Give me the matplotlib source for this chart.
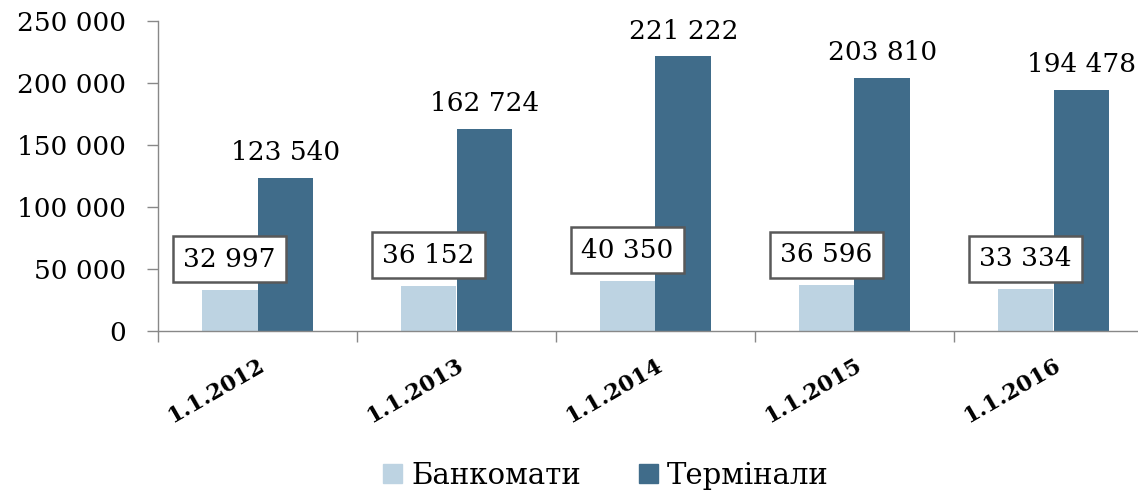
import matplotlib
matplotlib.use("Agg")
import matplotlib.pyplot as plt
import numpy as np
from matplotlib.patches import Patch

categories = ["1.1.2012", "1.1.2013", "1.1.2014", "1.1.2015", "1.1.2016"]
atms = [32997, 36152, 40350, 36596, 33334]
terminals = [123540, 162724, 221222, 203810, 194478]
series_names = ["Банкомати", "Термінали"]
yticks = [0, 50000, 100000, 150000, 200000, 250000]

light = "#BDD3E2"
dark = "#406C8A"

plt.rcParams['font.family'] = ['DejaVu Serif']

def fmt(v):
    return f"{v:,}".replace(",", " ")

fig = plt.figure(figsize=(11.38, 4.91), dpi=100)
ax = fig.add_axes([158/1138, 1 - 330.7/491, 995/1138, 310/491])

x = np.arange(len(categories))
w = 0.281
ax.bar(x - w/2, atms, width=w, color=light)
ax.bar(x + w/2, terminals, width=w, color=dark)

ax.set_xlim(-0.5, len(categories) - 0.5)
ax.set_ylim(0, 250000)
ax.set_yticks(yticks)
ax.set_yticklabels([fmt(v) for v in yticks], fontsize=19)
ax.tick_params(axis='y', length=8, width=1, color='#888888', pad=15, direction='out')

ax.set_xticks(x)
ax.set_xticklabels(categories, fontsize=16, fontweight='bold', rotation=30,
                   ha='right', va='top', rotation_mode='anchor')
ax.tick_params(axis='x', which='major', length=0, pad=17)
for lbl in ax.get_xticklabels():
    lbl.set_x(lbl.get_position()[0] - 0.03)
ax.set_xticks(np.arange(len(categories) + 1) - 0.5, minor=True)
ax.tick_params(axis='x', which='minor', length=8, width=1, color='#888888', direction='out')

for s in ['top', 'right']:
    ax.spines[s].set_visible(False)
for s in ['left', 'bottom']:
    ax.spines[s].set_color('#888888')
    ax.spines[s].set_linewidth(1)

for xi, v in zip(x, terminals):
    ax.annotate(fmt(v), (xi + w/2, v), xytext=(0, 9), textcoords='offset points',
                ha='center', va='bottom', fontsize=19, annotation_clip=False)

for xi, v in zip(x, atms):
    ax.annotate(fmt(v), (xi - w/2, v), xytext=(0, 22), textcoords='offset points',
                ha='center', va='center', fontsize=19,
                bbox=dict(boxstyle='square,pad=0.4', fc='white', ec='#595959', lw=1.8))

handles = [Patch(color=light), Patch(color=dark)]
fig.legend(handles, series_names, loc='center', bbox_to_anchor=(606/1138, 1 - 476/491),
           ncol=2, frameon=False, fontsize=21, handlelength=0.65, handleheight=0.65,
           handletextpad=0.3, columnspacing=2.0)

fig.savefig("out.png", dpi=100)
